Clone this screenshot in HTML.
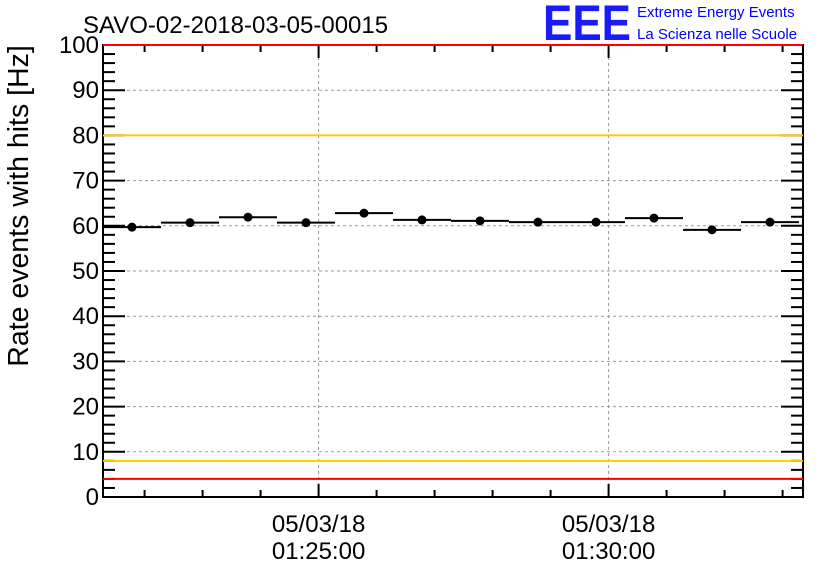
<!DOCTYPE html>
<html><head><meta charset="utf-8"><style>
body{margin:0;background:#fff;}
svg{display:block;font-family:"Liberation Sans",sans-serif;}
</style></head><body>
<svg id="chart" width="836" height="572">
<text x="83" y="33" font-size="24">SAVO-02-2018-03-05-00015</text>
<g>
<text x="543" y="40" font-size="50" font-weight="bold" fill="#1a1aff" textLength="88" lengthAdjust="spacingAndGlyphs">EEE</text>
<text x="637" y="17" font-size="15" fill="#0000ff">Extreme Energy Events</text>
<text x="637" y="39" font-size="15" fill="#0000ff">La Scienza nelle Scuole</text>
</g>
<text transform="translate(28,206) rotate(-90)" text-anchor="middle" font-size="28.5">Rate events with hits [Hz]</text>
<g id="grid"></g><g id="axes"></g><g id="refs"></g><g id="marks"></g>
</svg>
<script>
const values=[59.7,60.7,61.9,60.7,62.8,61.3,61.1,60.8,60.8,61.7,59.1,60.8];
const errors=[0.6,0.6,0.6,0.6,0.6,0.6,0.6,0.6,0.6,0.6,0.6,0.6];
const yTicks=[0,10,20,30,40,50,60,70,80,90,100];
const xTickLabels=[["05/03/18","01:25:00"],["05/03/18","01:30:00"]];
const xTickMinutes=[5,10]; // minutes from 01:20:00
const refLines=[{v:100,c:"#ff0000"},{v:80,c:"#ffcc00"},{v:8,c:"#ffcc00"},{v:4,c:"#ff0000"}];
const startMin=1.283, binMin=1;
const L=103,R=803,T=45,B=497;
const ns="http://www.w3.org/2000/svg";
function yS(v){return B-(v/100)*(B-T);}
function xS(m){return L+(m-startMin)*58;}
function mk(p,tag,a){const e=document.createElementNS(ns,tag);for(const k in a)e.setAttribute(k,a[k]);p.appendChild(e);return e;}
const grid=document.getElementById('grid'),axes=document.getElementById('axes'),marks=document.getElementById('marks'),refs=document.getElementById('refs');
mk(axes,'rect',{x:L,y:T,width:R-L,height:B-T,fill:'none',stroke:'#000','stroke-width':2});
yTicks.forEach(t=>{
 if(t>0&&t<100){const g=mk(grid,'line',{x1:L,x2:R,y1:yS(t),y2:yS(t),stroke:'#999','stroke-dasharray':'3,3'});
 
 }
 const lb=mk(axes,'text',{x:L-4,y:yS(t)+8,'text-anchor':'end','font-size':24});lb.textContent=t;
 
 
 mk(axes,'line',{x1:L,x2:L+22,y1:yS(t),y2:yS(t),stroke:'#000','stroke-width':2});
 mk(axes,'line',{x1:R,x2:R-22,y1:yS(t),y2:yS(t),stroke:'#000','stroke-width':2});
});
for(let v=0;v<100;v+=2){if(v%10==0)continue;
 mk(axes,'line',{x1:L,x2:L+12,y1:yS(v),y2:yS(v),stroke:'#000','stroke-width':2});
 mk(axes,'line',{x1:R,x2:R-12,y1:yS(v),y2:yS(v),stroke:'#000','stroke-width':2});}
for(let m=2;m<=13;m++){const x=xS(m);if(x<L||x>R)continue;
 const major=xTickMinutes.includes(m);const len=major?13:7;
 mk(axes,'line',{x1:x,x2:x,y1:B,y2:B-len,stroke:'#000','stroke-width':2});
 mk(axes,'line',{x1:x,x2:x,y1:T,y2:T+len,stroke:'#000','stroke-width':2});}
xTickMinutes.forEach((m,i)=>{const x=xS(m);
 const g=mk(grid,'line',{x1:x,x2:x,y1:T,y2:B,stroke:'#999','stroke-dasharray':'3,3'});
 
 
 xTickLabels[i].forEach((s,j)=>{const t=mk(axes,'text',{x:x,y:532+j*27,'text-anchor':'middle','font-size':24});t.textContent=s;
 
 });});
refLines.forEach(r=>{const l=mk(refs,'line',{x1:L,x2:R,y1:yS(r.v),y2:yS(r.v),stroke:r.c,'stroke-width':2});
 
 });
values.forEach((v,i)=>{const x0=xS(startMin+i*binMin),x1=xS(startMin+(i+1)*binMin),xc=(x0+x1)/2,y=yS(v);
 const g=mk(marks,'g',{});
 
 
 mk(g,'line',{x1:x0,x2:x1,y1:y,y2:y,stroke:'#000','stroke-width':2});
 mk(g,'line',{x1:xc,x2:xc,y1:yS(v+errors[i]),y2:yS(v-errors[i]),stroke:'#000','stroke-width':2});
 mk(g,'circle',{cx:xc,cy:y,r:4.5,fill:'#000'});});
</script>
</body></html>
